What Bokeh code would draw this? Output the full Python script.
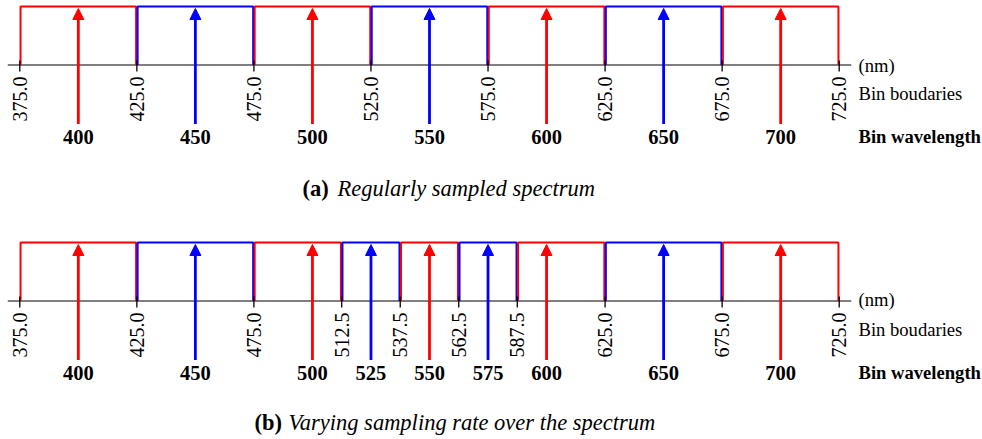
import numpy as np
from bokeh.plotting import figure
from bokeh.models import Range1d, Arrow, NormalHead, ColumnDataSource
from bokeh.core.properties import value
from bokeh.embed import file_html
from bokeh.resources import INLINE

# ---------------- data ----------------
bounds_a = [375.0, 425.0, 475.0, 525.0, 575.0, 625.0, 675.0, 725.0]
waves_a = [400, 450, 500, 550, 600, 650, 700]
colors_a = ["red", "blue", "red", "blue", "red", "blue", "red"]

bounds_b = [375.0, 425.0, 475.0, 512.5, 537.5, 562.5, 587.5, 625.0, 675.0, 725.0]
waves_b = [400, 450, 500, 525, 550, 575, 600, 650, 700]
colors_b = ["red", "blue", "red", "blue", "red", "blue", "red", "blue", "red"]

caption_a = ("(a)", "Regularly sampled spectrum")
caption_b = ("(b)", "Varying sampling rate over the spectrum")
side_labels = ["(nm)", "Bin boudaries", "Bin wavelength"]

# ---------------- layout ----------------
W, H = 982, 439
X0_PX, X1_PX = 19.3, 838.7
scale = (X1_PX - X0_PX) / (bounds_a[-1] - bounds_a[0])  # px per nm
x_start = bounds_a[0] - X0_PX / scale
x_end = bounds_a[0] + (W - X0_PX) / scale

RED = "#ff0000"
BLUE = "#0000ff"
cmap = {"red": RED, "blue": BLUE}
SERIF = "Liberation Serif"

p = figure(width=W, height=H, output_backend="svg", toolbar_location=None,
           x_range=Range1d(x_start, x_end), y_range=Range1d(H, 0),
           min_border=0, outline_line_color=None)
p.axis.visible = False
p.grid.visible = False
p.background_fill_color = "white"
p.border_fill_color = "white"


def px(n):
    return n / scale


def sx(screen_x):
    return x_start + screen_x / scale


def panel(bounds, waves, colors, cap, top, axis_y, tip, arrow_bot, tl_top,
          wave_mid, side_mids, cap_mid, cap_x):
    # bins
    inset = px(0.75)
    xs, ys, lc = [], [], []
    for lo, hi, c in zip(bounds[:-1], bounds[1:], colors):
        xs.append([lo + inset, lo + inset, hi - inset, hi - inset])
        ys.append([axis_y, top, top, axis_y])
        lc.append(cmap[c])
    # axis line
    p.segment(x0=[bounds[0] - px(12)], y0=[axis_y], x1=[bounds[-1] + px(12)], y1=[axis_y],
              line_color="#555555", line_width=1.6)
    p.multi_line(xs=xs, ys=ys, line_color=lc, line_width=2.0)
    # ticks
    p.segment(x0=bounds, y0=[axis_y - 4.5] * len(bounds), x1=bounds, y1=[axis_y + 6.5] * len(bounds),
              line_color="black", line_width=1.3)
    # tick labels (rotated)
    p.text(x=bounds, y=[tl_top] * len(bounds), text=["%.1f" % b for b in bounds],
           angle=np.pi / 2, text_align="right", text_baseline="middle",
           text_font=value(SERIF), text_font_size="20px", text_color="black")
    # arrows
    for cname in ("red", "blue"):
        xv = [w for w, c in zip(waves, colors) if c == cname]
        src = ColumnDataSource(dict(x=xv, y0=[arrow_bot] * len(xv), y1=[tip] * len(xv)))
        col = cmap[cname]
        p.add_layout(Arrow(source=src, x_start="x", y_start="y0", x_end="x", y_end="y1",
                           line_color=col, line_width=2.8,
                           end=NormalHead(size=11, fill_color=col, line_color=col, line_width=1)))
    # wavelength labels
    p.text(x=waves, y=[wave_mid] * len(waves), text=[str(w) for w in waves],
           text_align="center", text_baseline="middle",
           text_font=value(SERIF), text_font_style="bold", text_font_size="20.5px",
           text_color="black")
    # side labels
    styles = ["normal", "normal", "bold"]
    for t, m, st in zip(side_labels, side_mids, styles):
        p.text(x=[sx(858)], y=[m], text=[t], text_align="left", text_baseline="middle",
               text_font=value(SERIF), text_font_style=st, text_font_size="18.6px",
               text_color="black")
    # caption
    p.text(x=[sx(cap_x[0])], y=[cap_mid], text=[cap[0]], text_align="left",
           text_baseline="middle", text_font=value(SERIF), text_font_style="bold",
           text_font_size="22.5px", text_color="black")
    p.text(x=[sx(cap_x[1])], y=[cap_mid], text=[cap[1]], text_align="left",
           text_baseline="middle", text_font=value(SERIF), text_font_style="italic",
           text_font_size="22.5px", text_color="black")


panel(bounds_a, waves_a, colors_a, caption_a, top=6, axis_y=64.5, tip=8, arrow_bot=123.5,
      tl_top=76, wave_mid=136, side_mids=[64.5, 93, 136], cap_mid=187.5, cap_x=(302, 337))
panel(bounds_b, waves_b, colors_b, caption_b, top=242, axis_y=300.5, tip=244, arrow_bot=359.5,
      tl_top=312, wave_mid=372, side_mids=[299, 329, 372], cap_mid=421.5, cap_x=(254, 288))

open("out.html", "w").write(file_html(p, INLINE))
